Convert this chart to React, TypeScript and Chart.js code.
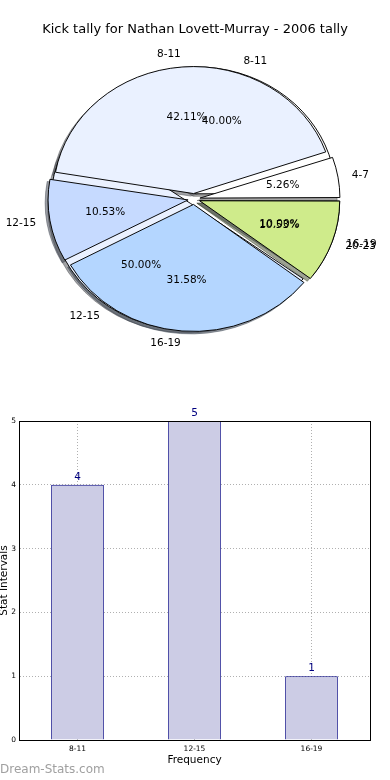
import React, { useEffect, useRef } from 'react';
import { Chart, registerables } from 'chart.js';

Chart.register(...registerables);

const TITLE = 'Kick tally for Nathan Lovett-Murray - 2006 tally';

// first pie (drawn underneath)
const pieALabels = ['8-11', '12-15', '16-19'];
const pieAValues = [4, 5, 1];
const pieAColors = ['#FFFFFF', '#EAF1FF', '#C6DAFF'];

// second pie (drawn on top)
const pieBLabels = ['4-7', '8-11', '12-15', '16-19', '20-23'];
const pieBValues = [1, 8, 2, 6, 2];
const pieBColors = ['#FFFFFF', '#EAF1FF', '#C6DAFF', '#B4D6FF', '#CFEB8B'];

// bar chart
const barLabels = ['8-11', '12-15', '16-19'];
const barValues = [4, 5, 1];
const Y_MIN = 0;
const Y_MAX = 5;
const Y_STEP = 1;

const FONT = "'DejaVu Sans', sans-serif";
const PIE_R = 140;
const PIE_K = 127 / 140;
const EXPLODE = 6;
const SHADOW_DX = -2.8;
const SHADOW_DY = 2.5;

function midAngle(arc: any) {
  return (arc.startAngle + arc.endAngle) / 2;
}

function toEllipse(ctx: CanvasRenderingContext2D, cx: number, cy: number) {
  ctx.translate(cx, cy);
  ctx.scale(1, PIE_K);
  ctx.translate(-cx, -cy);
}

function hexRgb(h: string): number[] {
  const s = h.replace('#', '');
  return [0, 2, 4].map((i) => parseInt(s.slice(i, i + 2), 16));
}

function drawShadows(ctx: CanvasRenderingContext2D, chart: any) {
  const arcs = chart.getDatasetMeta(0).data;
  arcs.forEach((arc: any) => {
    const m = midAngle(arc);
    const [r, g, b] = hexRgb(String(arc.options.backgroundColor));
    const col = `rgba(${Math.round(0.3 * r)},${Math.round(0.3 * g)},${Math.round(0.3 * b)},0.5)`;
    ctx.save();
    ctx.translate(SHADOW_DX, SHADOW_DY);
    toEllipse(ctx, arc.x, arc.y);
    const cx = arc.x + EXPLODE * Math.cos(m);
    const cy = arc.y + EXPLODE * Math.sin(m);
    ctx.beginPath();
    ctx.moveTo(cx, cy);
    ctx.arc(cx, cy, PIE_R, arc.startAngle, arc.endAngle);
    ctx.closePath();
    ctx.fillStyle = col;
    ctx.fill();
    ctx.strokeStyle = col;
    ctx.lineWidth = 1;
    ctx.stroke();
    ctx.restore();
  });
}

function fixRadii(chart: any) {
  chart.getDatasetMeta(0).data.forEach((arc: any) => {
    const fix = 1 - Math.sin(Math.min(Math.PI, arc.circumference || 0));
    arc.outerRadius = PIE_R - EXPLODE * fix;
  });
}

function drawPieLabels(ctx: CanvasRenderingContext2D, chart: any) {
  const arcs = chart.getDatasetMeta(0).data;
  const labels = chart.data.labels as string[];
  const values = chart.data.datasets[0].data as number[];
  const total = values.reduce((a, b) => a + b, 0);
  ctx.save();
  ctx.fillStyle = '#000';
  ctx.font = `10.5px ${FONT}`;
  ctx.textBaseline = 'middle';
  arcs.forEach((arc: any, i: number) => {
    const m = midAngle(arc);
    const c = Math.cos(m);
    const s = Math.sin(m);
    const dl = 1.1 * PIE_R + EXPLODE;
    ctx.textAlign = c > 0 ? 'left' : 'right';
    ctx.fillText(labels[i], arc.x + dl * c, arc.y + dl * s * PIE_K);
    const dp = 0.6 * PIE_R + EXPLODE;
    ctx.textAlign = 'center';
    ctx.fillText(((values[i] / total) * 100).toFixed(2) + '%', arc.x + dp * c, arc.y + dp * s * PIE_K);
  });
  ctx.restore();
}

function pieConfig(labels: string[], values: number[], colors: string[], plugin: any): any {
  return {
    type: 'pie',
    data: {
      labels: [...labels].reverse(),
      datasets: [
        {
          data: [...values].reverse(),
          backgroundColor: [...colors].reverse(),
          borderColor: '#000',
          borderWidth: 1,
          offset: EXPLODE * 4,
          hoverOffset: 0,
          radius: PIE_R,
        },
      ],
    },
    options: {
      responsive: false,
      animation: false,
      events: [],
      rotation: 90,
      radius: PIE_R,
      layout: { padding: { left: 0, right: 2, top: 0, bottom: 0 } },
      plugins: { legend: { display: false }, tooltip: { enabled: false }, title: { display: false } },
    },
    plugins: [plugin],
  };
}

export default function App() {
  const aRef = useRef<HTMLCanvasElement>(null);
  const bRef = useRef<HTMLCanvasElement>(null);
  const barRef = useRef<HTMLCanvasElement>(null);

  useEffect(() => {
    Chart.defaults.font.family = FONT;
    let chartA: any = null;
    let chartB: any = null;

    chartA = new Chart(
      aRef.current as HTMLCanvasElement,
      pieConfig(pieALabels, pieAValues, pieAColors, {
        id: 'pieA',
        beforeDatasetsDraw(chart: any) {
          const ctx = chart.ctx;
          drawShadows(ctx, chart);
          if (chartB) drawShadows(ctx, chartB);
          fixRadii(chart);
          const a = chart.getDatasetMeta(0).data[0];
          ctx.save();
          toEllipse(ctx, a.x, a.y);
        },
        afterDatasetsDraw(chart: any) {
          const ctx = chart.ctx;
          ctx.restore();
          ctx.save();
          ctx.fillStyle = '#000';
          ctx.font = `13px ${FONT}`;
          ctx.textAlign = 'center';
          ctx.textBaseline = 'middle';
          ctx.fillText(TITLE, chart.width / 2, 30);
          ctx.restore();
        },
      })
    );

    chartB = new Chart(
      bRef.current as HTMLCanvasElement,
      pieConfig(pieBLabels, pieBValues, pieBColors, {
        id: 'pieB',
        beforeDatasetsDraw(chart: any) {
          const ctx = chart.ctx;
          fixRadii(chart);
          const a = chart.getDatasetMeta(0).data[0];
          ctx.save();
          toEllipse(ctx, a.x, a.y);
        },
        afterDatasetsDraw(chart: any) {
          const ctx = chart.ctx;
          ctx.restore();
          if (chartA) drawPieLabels(ctx, chartA);
          drawPieLabels(ctx, chart);
        },
      })
    );
    chartA.draw();
    chartB.draw();

    const GRID = 'rgba(150,150,150,0.75)';
    const barChart = new Chart(barRef.current as HTMLCanvasElement, {
      type: 'bar',
      data: {
        labels: barLabels,
        datasets: [
          {
            data: barValues,
            backgroundColor: '#CCCCE5',
            borderColor: '#000080',
            borderWidth: 1,
            barPercentage: 0.45,
            categoryPercentage: 1,
          },
        ],
      },
      options: {
        responsive: false,
        animation: false,
        events: [],
        layout: { padding: { left: 0, right: 20, top: 21, bottom: 0 } },
        plugins: { legend: { display: false }, tooltip: { enabled: false } },
        scales: {
          x: {
            z: 1,
            offset: true,
            grid: { offset: false, color: GRID, lineWidth: 1, drawTicks: false },
            border: { display: true, color: '#000', width: 1, dash: [1, 2] },
            ticks: { color: '#000', font: { size: 7.5, family: FONT }, padding: 5 },
            title: {
              display: true,
              text: 'Frequency',
              color: '#000',
              font: { size: 10.5, family: FONT },
              padding: { top: 0, bottom: 13 },
            },
            afterFit: (s: any) => {
              s.height = 40;
            },
          } as any,
          y: {
            z: 1,
            min: Y_MIN,
            max: Y_MAX,
            grid: { color: GRID, lineWidth: 1, drawTicks: false },
            border: { display: true, color: '#000', width: 1, dash: [1, 2] },
            ticks: { stepSize: Y_STEP, color: '#000', font: { size: 7.5, family: FONT }, padding: 3 },
            title: {
              display: true,
              text: 'Stat Intervals',
              color: '#000',
              font: { size: 10.5, family: FONT },
              padding: { top: -2, bottom: 0 },
            },
            afterFit: (s: any) => {
              s.width = 19;
            },
          } as any,
        },
      },
      plugins: [
        {
          id: 'barExtras',
          afterDatasetsDraw(chart: any) {
            const ctx = chart.ctx;
            const meta = chart.getDatasetMeta(0);
            ctx.save();
            ctx.fillStyle = '#000080';
            ctx.font = `10.5px ${FONT}`;
            ctx.textAlign = 'center';
            ctx.textBaseline = 'alphabetic';
            meta.data.forEach((bar: any, i: number) => {
              ctx.fillText(String(chart.data.datasets[0].data[i]), bar.x, bar.y - 5);
            });
            ctx.restore();
          },
          afterDraw(chart: any) {
            const ctx = chart.ctx;
            const a = chart.chartArea;
            ctx.save();
            ctx.strokeStyle = '#000';
            ctx.lineWidth = 1;
            ctx.strokeRect(Math.round(a.left) + 0.5, Math.round(a.top) + 0.5, Math.round(a.right - a.left), Math.round(a.bottom - a.top));
            ctx.fillStyle = '#a0a0a0';
            ctx.font = `12px ${FONT}`;
            ctx.textAlign = 'left';
            ctx.textBaseline = 'middle';
            ctx.fillText('Dream-Stats.com', 0, chart.height - 10);
            ctx.restore();
          },
        },
      ],
    } as any);

    return () => {
      chartB.destroy();
      chartA.destroy();
      barChart.destroy();
    };
  }, []);

  const abs = (top: number, h: number): React.CSSProperties => ({
    position: 'absolute',
    left: 0,
    top,
    width: 390,
    height: h,
  });

  return (
    <div style={{ position: 'absolute', left: 0, top: 0, width: 390, height: 780, background: '#fff' }}>
      <canvas ref={aRef} width={390} height={398} style={abs(0, 398)} />
      <canvas ref={bRef} width={390} height={398} style={abs(0, 398)} />
      <canvas ref={barRef} width={390} height={380} style={abs(400, 380)} />
    </div>
  );
}
